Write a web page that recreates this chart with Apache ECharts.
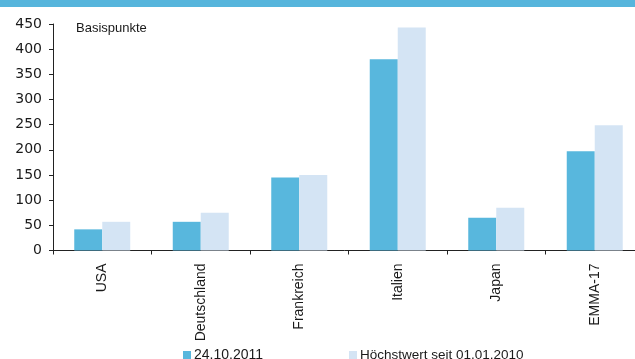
<!DOCTYPE html>
<html>
<head>
<meta charset="utf-8">
<script src="https://cdn.jsdelivr.net/npm/echarts@6/dist/echarts.min.js"></script>
<style>
  html, body { margin: 0; padding: 0; background: #ffffff; }
  #chart { width: 635px; height: 359px; }
</style>
</head>
<body>
<div id="chart"></div>
<script>
// Risikoaufschläge in Basispunkten je Land
const categories = ['USA', 'Deutschland', 'Frankreich', 'Italien', 'Japan', 'EMMA-17'];
const seriesNames = ['24.10.2011', 'Höchstwert seit 01.01.2010'];
const current = [42, 57, 145, 380, 65, 197];
const peak = [57, 75, 150, 443, 85, 249];
const yTicks = { min: 0, max: 450, interval: 50 };
const unitLabel = 'Basispunkte';

const FONT = '"Liberation Sans", Arial, sans-serif';
const NUM_FONT = '"DejaVu Sans", sans-serif';
const TEXT = '#1a1a1a';
const AXIS = '#222222';
const DARK = '#58b7dd';
const LIGHT = '#d4e4f4';

const chart = echarts.init(document.getElementById('chart'), null, { renderer: 'canvas' });

const legendBase = {
  top: 348, padding: 0,
  icon: 'rect', itemWidth: 8, itemHeight: 8, itemGap: 0,
  textStyle: { fontFamily: FONT, fontSize: 14, color: TEXT, padding: [0, 0, 0, -2] }
};

chart.setOption({
  animation: false,
  backgroundColor: '#ffffff',
  textStyle: { fontFamily: FONT, color: TEXT },
  graphic: [
    { type: 'rect', left: 0, top: 0, shape: { width: 635, height: 7 }, style: { fill: '#56b5dc' }, silent: true }
  ],
  title: {
    text: unitLabel,
    left: 76,
    top: 22,
    padding: 0,
    textStyle: { fontFamily: FONT, fontSize: 13, fontWeight: 'normal', color: TEXT }
  },
  legend: [
    Object.assign({ data: [seriesNames[0]], left: 183 }, legendBase),
    Object.assign({ data: [seriesNames[1]], left: 349 }, legendBase,
      { textStyle: Object.assign({}, legendBase.textStyle, { fontSize: 13.5 }) })
  ],
  grid: { left: 53, top: 24, right: -9, height: 226.5, containLabel: false, outerBoundsMode: 'none' },
  xAxis: {
    type: 'category',
    data: categories,
    axisLine: { lineStyle: { color: AXIS, width: 1 } },
    axisTick: { show: true, length: 4, lineStyle: { color: AXIS } },
    axisLabel: { rotate: 90, margin: 13, fontFamily: FONT, fontSize: 14, color: TEXT, interval: 0 },
    splitLine: { show: false }
  },
  yAxis: {
    type: 'value',
    min: yTicks.min, max: yTicks.max, interval: yTicks.interval,
    axisLine: { show: true, lineStyle: { color: AXIS, width: 1 } },
    axisTick: { show: true, length: 4, lineStyle: { color: AXIS } },
    axisLabel: { margin: 11, fontFamily: NUM_FONT, fontSize: 14, color: TEXT },
    splitLine: { show: false }
  },
  series: [
    {
      name: seriesNames[0], type: 'bar', data: current,
      barWidth: 28, barGap: '0%',
      itemStyle: { color: DARK }
    },
    {
      name: seriesNames[1], type: 'bar', data: peak,
      barWidth: 28, barGap: '0%',
      itemStyle: { color: LIGHT }
    }
  ]
});
</script>
</body>
</html>
